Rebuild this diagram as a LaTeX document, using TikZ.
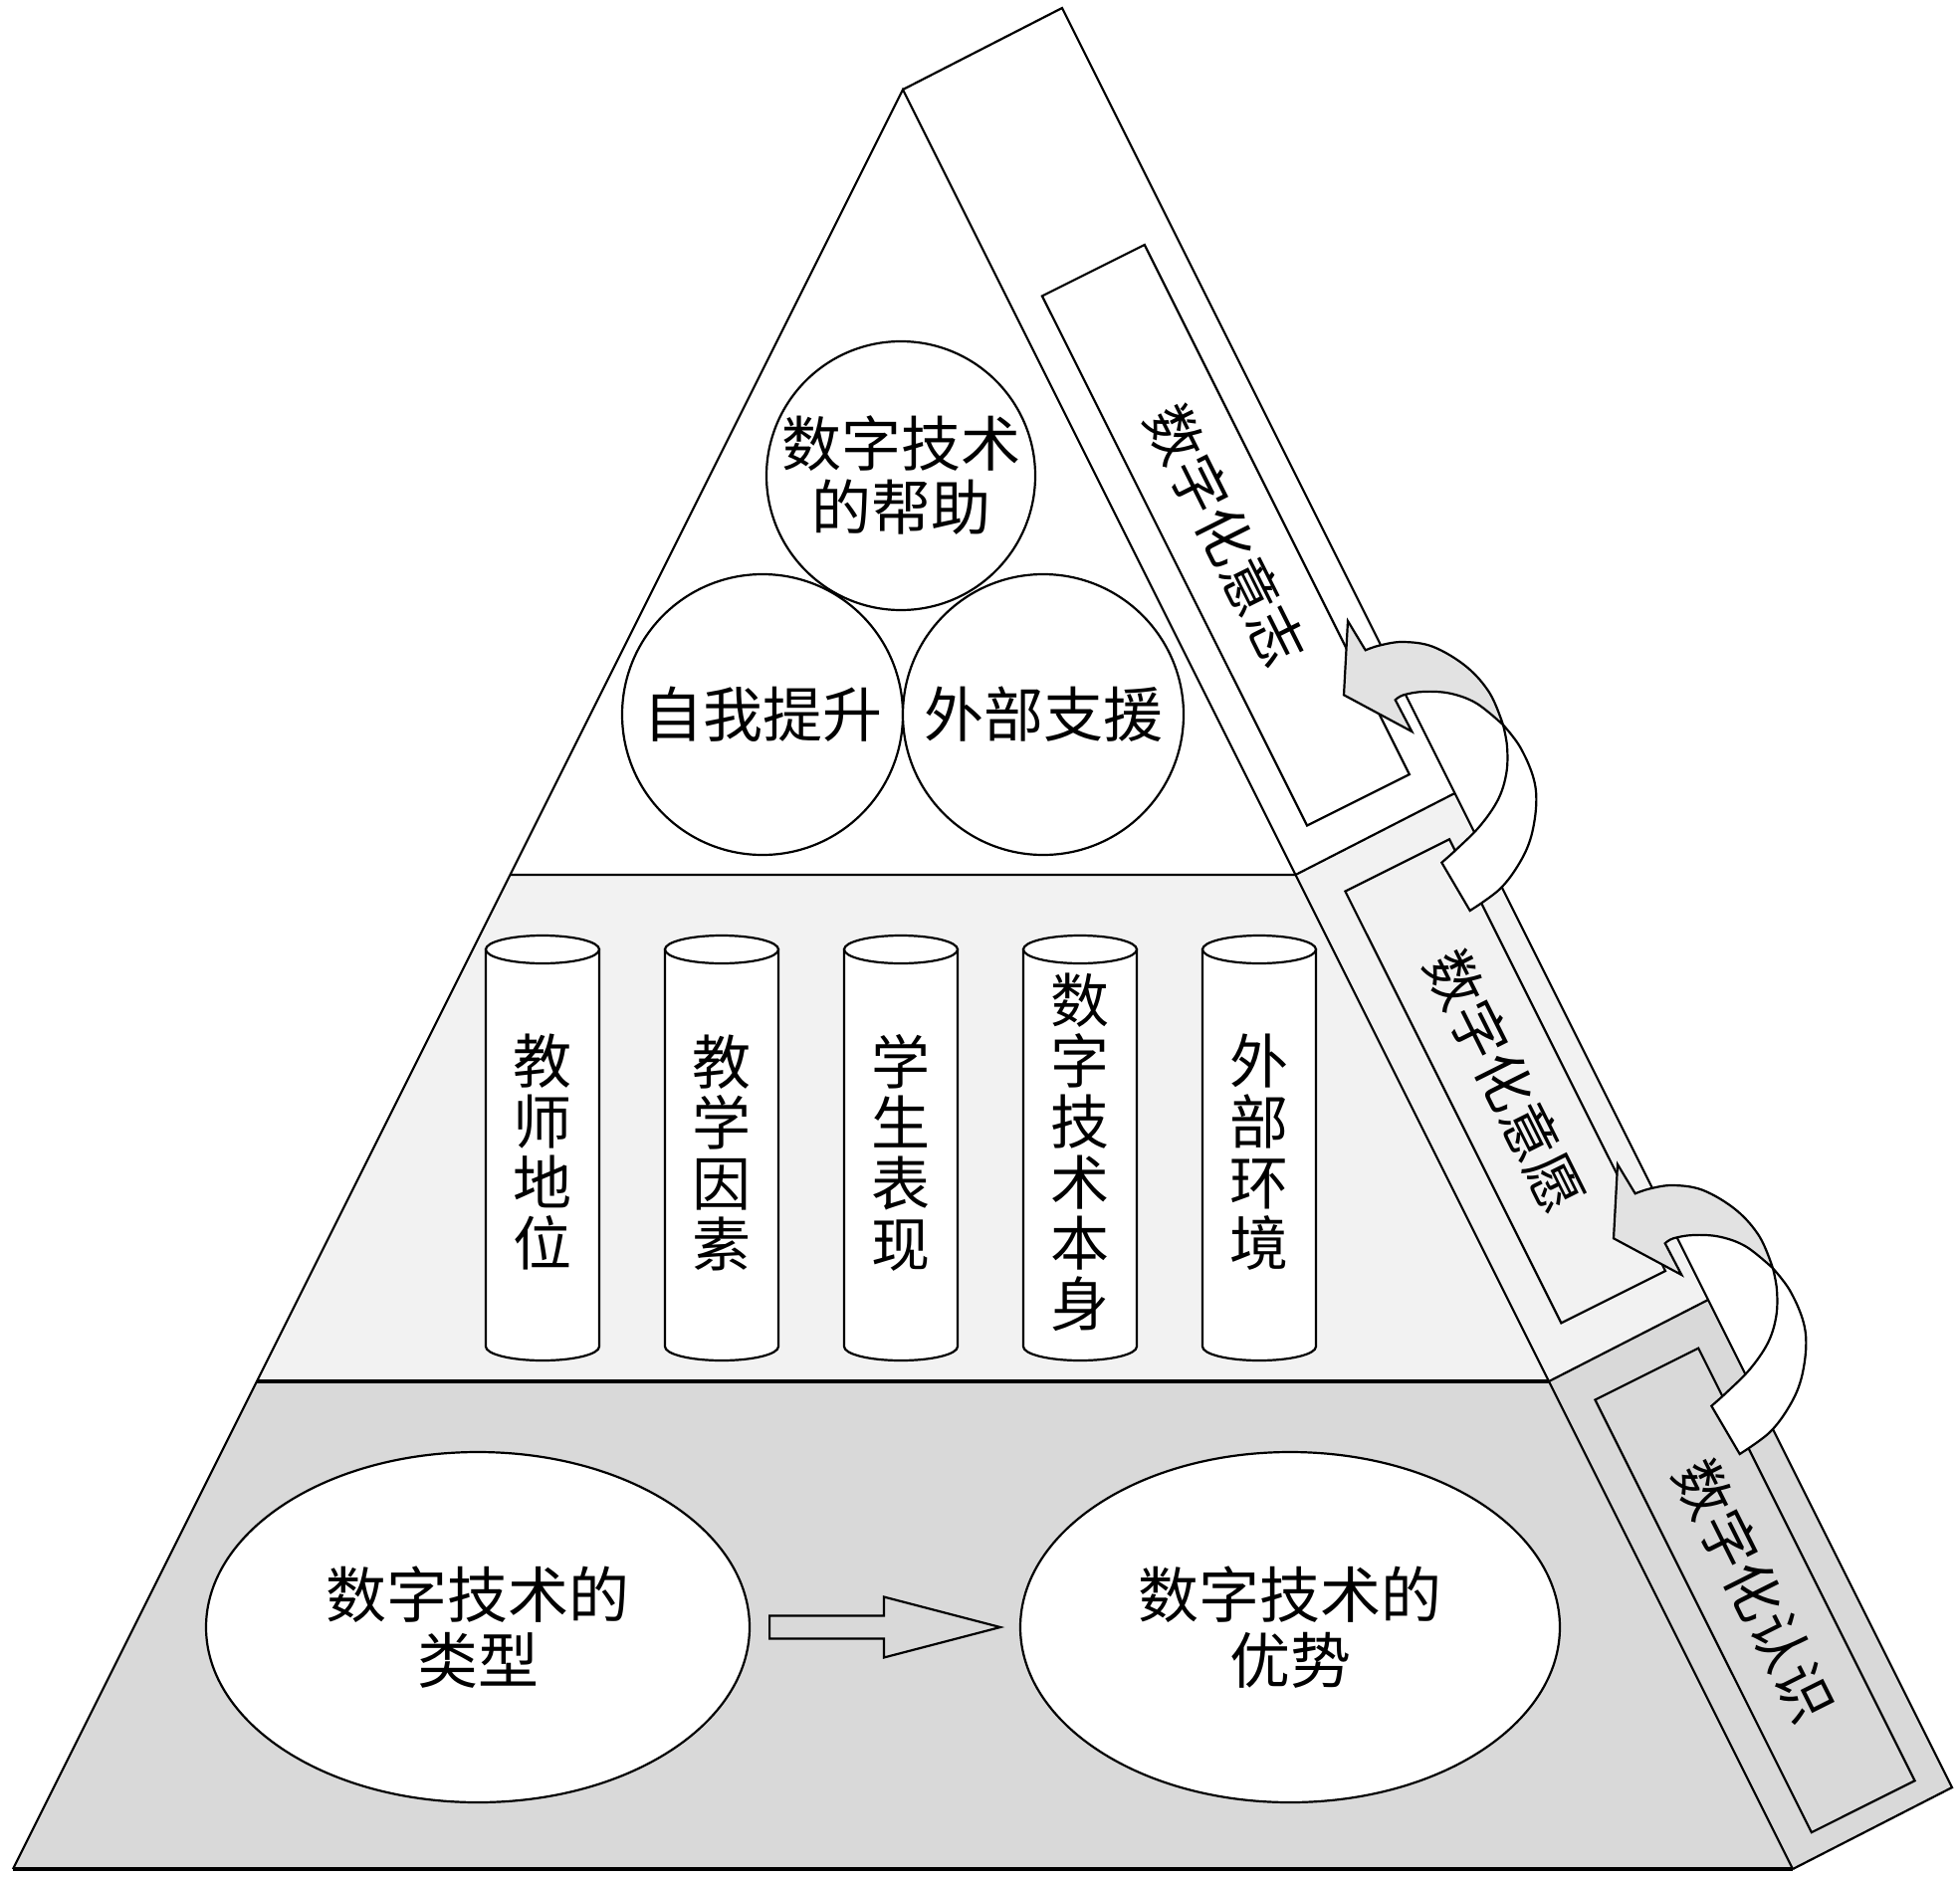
\documentclass[tikz,border=0pt]{standalone}
\usepackage{fontspec}
\newfontfamily\cjk{Noto Sans CJK SC}
\usetikzlibrary{shapes.geometric,calc}
\definecolor{midgray}{HTML}{F2F2F2}
\definecolor{lowgray}{HTML}{D9D9D9}
\definecolor{arrgray}{HTML}{E2E2E2}
\tikzset{
  edge/.style={draw=black,line width=2.2pt,line join=miter},
  thickedge/.style={draw=black,line width=3.8pt},
  cjktext/.style={font=\cjk\fontsize{60}{64}\selectfont,text=black,align=center,inner sep=0pt},
  vtext/.style={cjktext,font=\cjk\fontsize{59}{61}\selectfont},
  ball/.style={circle,edge,fill=white,minimum size=282pt,cjktext},
  oval/.style={ellipse,edge,fill=white,cjktext,font=\cjk\fontsize{61}{66}\selectfont},
  sidebox/.style={rectangle,edge,cjktext,rotate=-63.43,font=\cjk\fontsize{57}{60}\selectfont},
  curvarrow/.pic={
    \path[edge,fill=arrgray] (1354,624) -- plot[smooth,tension=0.6] coordinates {(1371.7,653.3) (1386.7,648.3) (1410,645) (1440,650) (1473.3,670) (1496.7,696.7) (1510,728.3)} -- plot[smooth,tension=0.6] coordinates {(1510,728.3) (1483.3,706.7) (1456.7,696.7) (1430,695) (1410,698.3) (1401.7,703.3)} -- (1418.3,735) -- (1350,698.3) -- cycle;
    \path[edge,fill=white] plot[smooth,tension=0.6] coordinates {(1510,728.3) (1526.7,750) (1540,780) (1543.3,806.7) (1538.3,840) (1526.7,866.7) (1506.7,893.3) (1476.7,915)} -- (1448.3,866.7) -- plot[smooth,tension=0.6] coordinates {(1448.3,866.7) (1463.3,853.3) (1486.7,830) (1505,803.3) (1513.3,776.7) (1514,750) (1510,728.3)} -- cycle;
  }
}
\begin{document}
\begin{tikzpicture}[x=1pt,y=-1pt]
\useasboundingbox (0,0) rectangle (1969,1886);
% main corners
\coordinate (A) at (907,90);
\coordinate (T) at (1067,8);
\coordinate (L1) at (512.5,879);
\coordinate (R1) at (1301.5,879);
\coordinate (S1) at (1461.5,797);
\coordinate (L2) at (258,1388);
\coordinate (R2) at (1556,1388);
\coordinate (S2) at (1716,1306);
\coordinate (BL) at (13,1878);
\coordinate (BR) at (1801,1878);
\coordinate (SB) at (1961,1796);
% fills
\fill[white] (A) -- (R1) -- (L1) -- cycle;
\fill[midgray] (L1) -- (R1) -- (R2) -- (L2) -- cycle;
\fill[lowgray] (L2) -- (R2) -- (BR) -- (BL) -- cycle;
\fill[white] (A) -- (T) -- (S1) -- (R1) -- cycle;
\fill[midgray] (R1) -- (S1) -- (S2) -- (R2) -- cycle;
\fill[lowgray] (R2) -- (S2) -- (SB) -- (BR) -- cycle;
% outlines
\draw[edge] (BL) -- (A) -- (BR);
\draw[edge] (A) -- (T) -- (SB) -- (BR);
\draw[thickedge] (BL) -- (BR);
\draw[edge] (L1) -- (R1) -- (S1);
\draw[thickedge] (L2) -- (R2);
\draw[edge] (R2) -- (S2);
% top circles
\node[ball,minimum size=270pt] (help) at (905,478) {数字技术\\的帮助};
\node[ball] (self) at (766,718) {自我提升};
\node[ball] (ext) at (1048,718) {外部支援};
% cylinders
\foreach \cx in {545,725,905,1085,1265}{
  \draw[edge,fill=white] ({\cx-57},954) -- ({\cx-57},1353) .. controls ({\cx-57},1360.7) and ({\cx-31.5},1367) .. (\cx,1367) .. controls ({\cx+31.5},1367) and ({\cx+57},1360.7) .. ({\cx+57},1353) -- ({\cx+57},954) -- cycle;
  \draw[edge,fill=white] (\cx,954) ellipse [x radius=57,y radius=14];
}
\node[vtext] (c1) at (545,1158) {教\\师\\地\\位};
\node[vtext] (c2) at (725,1158) {教\\学\\因\\素};
\node[vtext] (c3) at (905,1158) {学\\生\\表\\现};
\node[vtext] (c4) at (1085,1158) {数\\字\\技\\术\\本\\身};
\node[vtext] (c5) at (1265,1158) {外\\部\\环\\境};
% bottom ellipses
\node[oval,minimum width=546pt,minimum height=352pt] (kind) at (480,1635) {数字技术的\\类型};
\node[oval,minimum width=542pt,minimum height=352pt] (adv) at (1296,1635) {数字技术的\\优势};
\coordinate (ha) at ($(kind.east)+(19,0)$);
\coordinate (hb) at ($(adv.west)+(-19,0)$);
\draw[edge,fill=lowgray] ($(ha)+(0,-11.5)$) -- ($(hb)+(-117,-11.5)$) -- ($(hb)+(-117,-30.5)$) -- (hb) -- ($(hb)+(-117,30.5)$) -- ($(hb)+(-117,11.5)$) -- ($(ha)+(0,11.5)$) -- cycle;
% side boxes
\node[sidebox,minimum width=595pt,minimum height=115pt] (will) at (1231.4,537.75) {数字化意志};
\node[sidebox,minimum width=485pt,minimum height=117pt] (wish) at (1512.2,1086.3) {数字化意愿};
\node[sidebox,minimum width=486pt,minimum height=116pt] (know) at (1763,1597.9) {数字化认识};
% curved arrows
\pic (arrA) at (0,0) {curvarrow};
\pic (arrB) at (271,546) {curvarrow};
\end{tikzpicture}
\end{document}
